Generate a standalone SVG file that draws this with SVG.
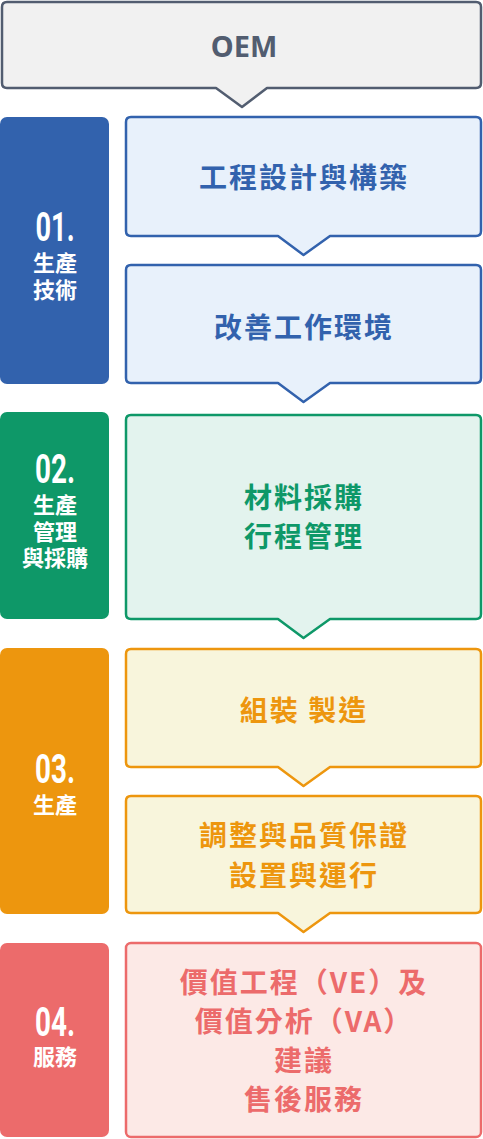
<svg xmlns="http://www.w3.org/2000/svg" width="483" height="1139" viewBox="0 0 483 1139">
<style>
.box{stroke-width:2.5;stroke-linejoin:round}
.main{font-family:"Noto Sans CJK TC","Noto Sans",sans-serif;font-weight:700;font-size:28px;letter-spacing:2px;text-anchor:middle}
.lab{font-family:"Noto Sans CJK TC","Noto Sans",sans-serif;font-weight:700;font-size:22px;fill:#fff;text-anchor:middle}
.num{font-family:Roboto,"Liberation Sans",sans-serif;font-weight:700;font-size:41px;fill:#fff;text-anchor:middle}
</style>
<rect width="483" height="1139" fill="#fff"/>
<g id="oem">
<path class="box" fill="#f1f1f1" stroke="#525d70" d="M7,2 H476 Q481,2 481,7 V83 Q481,88 476,88 H267 L242,107 L216,88 H7 Q2,88 2,83 V7 Q2,2 7,2 Z"/>
<text x="244" y="57" font-family="'Noto Sans',sans-serif" font-weight="700" font-size="29" fill="#525d70" text-anchor="middle">OEM</text>
</g>
<g id="label01">
<rect x="0" y="117" width="109" height="267" rx="7" fill="#3262ad"/>
<text class="num" x="55" y="241" textLength="39" lengthAdjust="spacingAndGlyphs">01.</text>
<text class="lab" x="55" y="271">生產</text>
<text class="lab" x="55" y="298">技術</text>
</g>
<g id="step1a">
<path class="box" fill="#e8f1fb" stroke="#3262ad" d="M131,117 H476 Q481,117 481,122 V231 Q481,236 476,236 H330 L303.5,255 L278,236 H131 Q126,236 126,231 V122 Q126,117 131,117 Z"/>
<text class="main" x="304" y="188" fill="#3262ad">工程設計與構築</text>
</g>
<g id="step1b">
<path class="box" fill="#e8f1fb" stroke="#3262ad" d="M131,265 H476 Q481,265 481,270 V378 Q481,383 476,383 H330 L303.5,402 L278,383 H131 Q126,383 126,378 V270 Q126,265 131,265 Z"/>
<text class="main" x="304" y="338" fill="#3262ad">改善工作環境</text>
</g>
<g id="label02">
<rect x="0" y="412" width="109" height="207" rx="7" fill="#0e9868"/>
<text class="num" x="55" y="483" textLength="40" lengthAdjust="spacingAndGlyphs">02.</text>
<text class="lab" x="55" y="513">生產</text>
<text class="lab" x="55" y="540">管理</text>
<text class="lab" x="55" y="566">與採購</text>
</g>
<g id="step2">
<path class="box" fill="#e3f3ee" stroke="#0e9868" d="M131,415 H476 Q481,415 481,420 V614 Q481,619 476,619 H330 L303.5,638 L278,619 H131 Q126,619 126,614 V420 Q126,415 131,415 Z"/>
<text class="main" x="304" y="508" fill="#0e9868">材料採購</text>
<text class="main" x="304" y="547" fill="#0e9868">行程管理</text>
</g>
<g id="label03">
<rect x="0" y="648" width="109" height="266" rx="7" fill="#ed960e"/>
<text class="num" x="55" y="783" textLength="40" lengthAdjust="spacingAndGlyphs">03.</text>
<text class="lab" x="55" y="813">生產</text>
</g>
<g id="step3a">
<path class="box" fill="#f8f5dc" stroke="#ed960e" d="M131,649 H476 Q481,649 481,654 V762 Q481,767 476,767 H330 L303.5,786 L278,767 H131 Q126,767 126,762 V654 Q126,649 131,649 Z"/>
<text class="main" x="304" y="721" fill="#ed960e">組裝 製造</text>
</g>
<g id="step3b">
<path class="box" fill="#f8f5dc" stroke="#ed960e" d="M131,796 H476 Q481,796 481,801 V908 Q481,913 476,913 H330 L303.5,932 L278,913 H131 Q126,913 126,908 V801 Q126,796 131,796 Z"/>
<text class="main" x="304" y="846" fill="#ed960e">調整與品質保證</text>
<text class="main" x="304" y="886" fill="#ed960e">設置與運行</text>
</g>
<g id="label04">
<rect x="0" y="943" width="109" height="194" rx="7" fill="#ec6b6b"/>
<text class="num" x="55" y="1036" textLength="40" lengthAdjust="spacingAndGlyphs">04.</text>
<text class="lab" x="55" y="1065">服務</text>
</g>
<g id="step4">
<rect class="box" x="126" y="943" width="355" height="194" rx="5" fill="#fce9e6" stroke="#ec6b6b"/>
<text class="main" x="304" y="993" fill="#ec6b6b">價值工程（VE）及</text>
<text class="main" x="304" y="1032" fill="#ec6b6b">價值分析（VA）</text>
<text class="main" x="304" y="1071" fill="#ec6b6b">建議</text>
<text class="main" x="304" y="1110" fill="#ec6b6b">售後服務</text>
</g>
<g id="connectors"></g>
</svg>
